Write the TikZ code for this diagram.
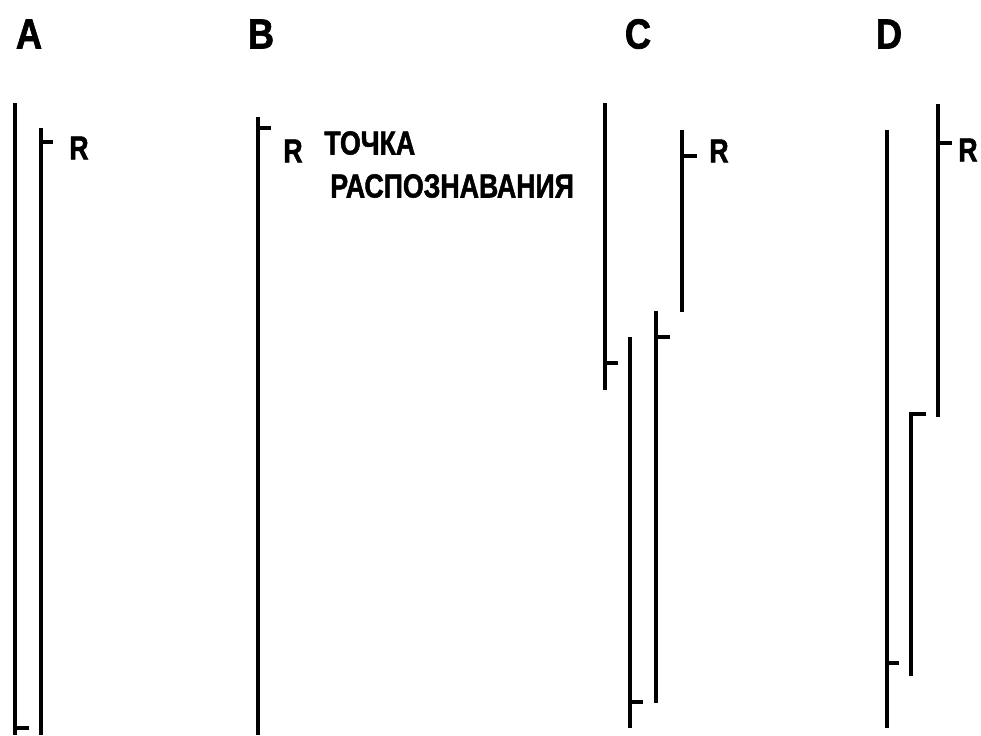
\documentclass[tikz,border=0pt]{standalone}
\usepackage{fontspec}
\newfontfamily\figfont{Liberation Sans Bold}[FakeStretch=0.86,FakeBold=1.5]
\newfontfamily\lblfont{Liberation Sans Bold}[FakeStretch=0.8,FakeBold=1.5]
\begin{document}
\begin{tikzpicture}[x=0.02cm,y=-0.02cm]
        \tikzstyle{trace}=[line width=2.2pt]
        \tikzstyle{panel}=[font=\figfont\fontsize{24}{24}\selectfont,inner sep=0pt]
        \tikzstyle{lbl}=[font=\lblfont\fontsize{19}{19}\selectfont,inner sep=0pt]
        \useasboundingbox (0,0) rectangle (981,735);

        % panel letters
        \node [panel] (pA) at (29,34) {A};
        \node [panel] (pB) at (261,34) {B};
        \node [panel] (pC) at (638,34) {C};
        \node [panel] (pD) at (889,34) {D};

       \begin{scope}
         % A
         \draw[trace] (15,103) -- (15,735);
         \draw[trace] (15,728) -- (29,728);
         \draw[trace] (41,128) -- (41,735);
         \draw[trace] (41,142) -- (53,142);
         \node [lbl] (rA) at (79,148) {R};
        \end{scope}

       \begin{scope}
         % B
         \draw[trace] (258,117) -- (258,735);
         \draw[trace] (258,128) -- (271,128);
         \node [lbl] (rB) at (293,151) {R};
         \node [lbl,anchor=west] (tB1) at (324,143) {ТОЧКА};
         \node [lbl,anchor=west] (tB2) at (330,186) {РАСПОЗНАВАНИЯ};
        \end{scope}

       \begin{scope}
         % C
         \draw[trace] (605,103) -- (605,390);
         \draw[trace] (605,363) -- (618,363);
         \draw[trace] (682,130) -- (682,312);
         \draw[trace] (682,156) -- (697,156);
         \node [lbl] (rC) at (719,151) {R};
         \draw[trace] (630,337) -- (630,728);
         \draw[trace] (630,702) -- (643,702);
         \draw[trace] (656,311) -- (656,703);
         \draw[trace] (656,337) -- (670,337);
        \end{scope}

       \begin{scope}
         % D
         \draw[trace] (887,130) -- (887,728);
         \draw[trace] (887,663) -- (899,663);
         \draw[trace] (938,104) -- (938,417);
         \draw[trace] (938,143) -- (952,143);
         \node [lbl,anchor=west] (rD) at (958,150) {R};
         \draw[trace] (926,414) -- (911,414) -- (911,676);
        \end{scope}
      \end{tikzpicture}
\end{document}
